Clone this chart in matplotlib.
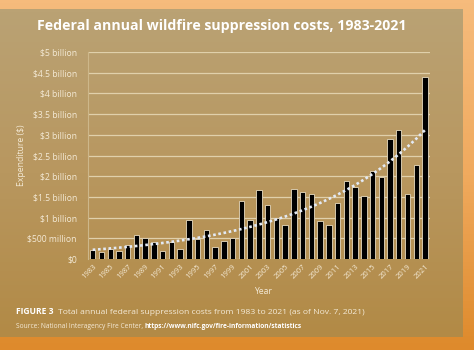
import matplotlib.pyplot as plt
import numpy as np
from matplotlib.colors import LinearSegmentedColormap

# annual federal suppression costs, billions of dollars
years = np.arange(1983, 2022)
costs = [0.21, 0.17, 0.24, 0.20, 0.33, 0.59, 0.50, 0.40, 0.20, 0.40,
         0.24, 0.93, 0.48, 0.70, 0.28, 0.43, 0.51, 1.41, 0.95, 1.67,
         1.31, 0.99, 0.83, 1.70, 1.61, 1.57, 0.92, 0.81, 1.35, 1.88,
         1.74, 1.52, 2.13, 1.97, 2.91, 3.12, 1.58, 2.27, 4.40]
ytick_vals = [0, 0.5, 1, 1.5, 2, 2.5, 3, 3.5, 4, 4.5, 5]
ytick_labels = ["$0", "$500 million", "$1 billion", "$1.5 billion", "$2 billion",
                "$2.5 billion", "$3 billion", "$3.5 billion", "$4 billion",
                "$4.5 billion", "$5 billion"]
xtick_years = years[::2]

TXT = "#f4ead6"
FONT = ["Open Sans", "DejaVu Sans"]
plt.rcParams["font.family"] = FONT

fig = plt.figure(figsize=(4.74, 3.5), dpi=100)

# background: orange frame + gold panel with vertical gradient
bg = fig.add_axes([0, 0, 1, 1])
bg.axis("off")
frame = LinearSegmentedColormap.from_list("frame", ["#f6bb7c", "#f0aa5e", "#de8a2c"])
bg.imshow(np.linspace(0, 1, 100)[:, None], cmap=frame, extent=[0, 474, 350, 0], aspect="auto")
panel = LinearSegmentedColormap.from_list("panel", ["#baa274", "#b8975f", "#b28a46"])
bg.imshow(np.linspace(0, 1, 100)[:, None], cmap=panel, extent=[0, 463, 337, 9], aspect="auto")
bg.set_xlim(0, 474)
bg.set_ylim(350, 0)

ax = fig.add_axes([88 / 474, 1 - 259 / 350, (430 - 88) / 474, (259 - 52) / 350])
ax.set_facecolor("none")

ax.bar(years, costs, width=0.62, color="black", edgecolor="#e9dcc0", linewidth=0.6, zorder=3)

# exponential trend fitted to the bars
coef = np.polyfit(years, np.log(costs), 1)
trend = np.exp(np.polyval(coef, years))
ax.plot(years, trend, color="#e3eaf5", linestyle=(0, (1, 1)), linewidth=1.9, zorder=4)

ax.set_xlim(1982.46, 2021.57)
ax.set_ylim(0, 5)
ax.set_yticks(ytick_vals)
ax.set_yticklabels(ytick_labels)
ax.set_xticks(xtick_years)
ax.set_xticklabels([str(y) for y in xtick_years], rotation=45, ha="right", rotation_mode="anchor")
ax.tick_params(axis="y", length=0, pad=8, labelsize=6.2, labelcolor=TXT)
ax.tick_params(axis="x", length=0, pad=3, labelsize=5.5, labelcolor=TXT)

ax.grid(axis="y", color="#e0d0ab", linewidth=0.9, zorder=0)
for s in ["top", "right", "bottom"]:
    ax.spines[s].set_visible(False)
ax.spines["left"].set_color("#cdb78a")
ax.spines["left"].set_linewidth(0.8)

fig.text(21 / 474, 1 - 155 / 350, "Expenditure ($)", rotation=90, ha="center", va="center",
         fontsize=6.2, color=TXT)
fig.text(263 / 474, 1 - 291 / 350, "Year", ha="center", va="center", fontsize=6.2, color=TXT)

fig.text(37 / 474, 1 - 26 / 350, "Federal annual wildfire suppression costs, 1983-2021",
         ha="left", va="center", fontsize=10.2, fontweight="bold", color="white")

t1 = fig.text(16 / 474, 1 - 312 / 350, "FIGURE 3", ha="left", va="center",
              fontsize=6.1, fontweight="bold", color="white")
ax.annotate("Total annual federal suppression costs from 1983 to 2021 (as of Nov. 7, 2021)",
            xy=(1, 0.5), xycoords=t1, xytext=(3.5, 0), textcoords="offset points",
            ha="left", va="center", fontsize=6.1, color=TXT, annotation_clip=False)
t2 = fig.text(16 / 474, 1 - 326 / 350, "Source: National Interagency Fire Center, ", ha="left",
              va="center", fontsize=4.8, color=TXT)
ax.annotate("https://www.nifc.gov/fire-information/statistics", xy=(1, 0.5), xycoords=t2,
            ha="left", va="center", fontsize=4.8, fontweight="bold", color="white",
            annotation_clip=False)

fig.savefig("out.png", dpi=100)
